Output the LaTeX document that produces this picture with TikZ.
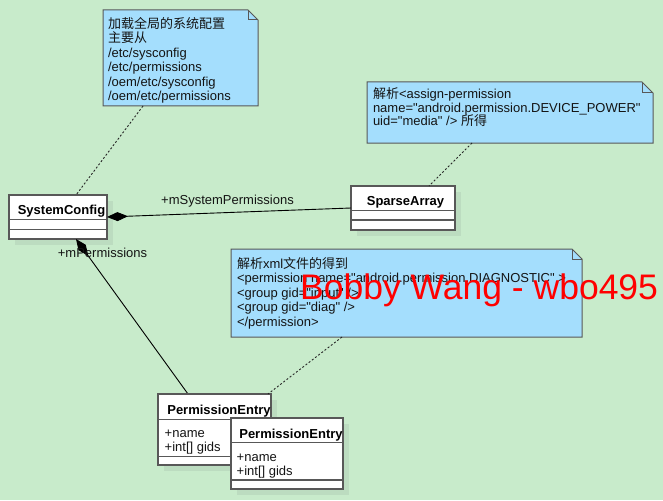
\documentclass[tikz,border=0pt]{standalone}
\usepackage{fontspec}
\setmainfont{Liberation Sans}[Ligatures=TeXOff]
\newfontfamily\cjk{Noto Sans CJK SC}
\usetikzlibrary{arrows.meta,shadows}
\definecolor{bg}{RGB}{200,235,203}
\definecolor{notefill}{RGB}{164,222,253}
\definecolor{edge}{RGB}{88,88,88}
\definecolor{shade}{RGB}{188,220,192}
\definecolor{textc}{RGB}{20,20,20}
\newcommand\nstrut{\rule{0pt}{12pt}}
\newcommand\notefont{\fontsize{13}{14.5}\selectfont\lineskiplimit=-100pt\relax}
\newcommand\notefontB{\fontsize{13}{13.3}\selectfont\lineskiplimit=-100pt\relax}
\newcommand\notefontC{\fontsize{13}{14.6}\selectfont\lineskiplimit=-100pt\relax}
\begin{document}
\begin{tikzpicture}[x=1pt,y=-1pt,
  note/.style={fill=notefill, draw=edge, line width=1pt, line join=miter},
  notearea/.style={anchor=north west, inner sep=0pt, outer sep=0pt, draw=none},
  notetext/.style={anchor=north west, inner sep=0pt, outer sep=0pt, align=left, text=textc, font=\notefont},
  classbox/.style={anchor=north west, draw=edge, line width=1.1pt, fill=white, inner sep=0pt, outer sep=0pt,
    drop shadow={shadow xshift=6pt, shadow yshift=-6pt, fill=shade, opacity=1}},
  sepline/.style={draw=edge, line width=1.1pt},
  classname/.style={anchor=base, inner sep=0pt, text=black, font=\fontsize{13}{15}\selectfont\bfseries},
  attrs/.style={anchor=north west, inner sep=0pt, align=left, text=textc, font=\notefont},
  assoc/.style={draw=black, line width=0.9pt},
  comp/.style={assoc, {Diamond[length=21pt,width=9pt]}-},
  notelink/.style={draw=black!85, line width=0.9pt, dash pattern=on 2pt off 2pt},
  rolelabel/.style={anchor=base, inner sep=0pt, text=textc, font=\fontsize{13}{15}\selectfont},
  watermark/.style={anchor=base west, inner sep=0pt, text=red, font=\fontsize{35.5}{40}\selectfont}
]
\useasboundingbox (0,0) rectangle (663,500);
\fill[bg] (0,0) rectangle (663,500);

% ---------- note 1
\node[notearea, minimum width=155pt, minimum height=96pt] (n1) at (103,10) {};
\path[note] (n1.north west) -- ([xshift=-10pt]n1.north east) -- ([yshift=-10pt]n1.north east)
  -- (n1.south east) -- (n1.south west) -- cycle;
\draw[edge, line width=1pt] ([xshift=-10pt]n1.north east) |- ([yshift=-10pt]n1.north east);
\node[notetext] (n1t) at (108,16.5) {\nstrut{\cjk 加载全局的系统配置}\\{\cjk 主要从}\\/etc/sysconfig\\/etc/permissions\\/oem/etc/sysconfig\\/oem/etc/permissions};

% ---------- note 2
\node[notearea, minimum width=286pt, minimum height=61pt] (n2) at (367,82) {};
\path[note] (n2.north west) -- ([xshift=-11pt]n2.north east) -- ([yshift=-11pt]n2.north east)
  -- (n2.south east) -- (n2.south west) -- cycle;
\draw[edge, line width=1pt] ([xshift=-11pt]n2.north east) |- ([yshift=-11pt]n2.north east);
\node[notetext, font=\notefontB] (n2t) at (373,87)
  {\nstrut{\cjk 解析}<assign-permission\\name="android.permission.DEVICE\_POWER"\\uid="media" /> {\cjk 所得}};

% ---------- note 3
\node[notearea, minimum width=351pt, minimum height=88pt] (n3) at (231,249) {};
\path[note] (n3.north west) -- ([xshift=-10pt]n3.north east) -- ([yshift=-10pt]n3.north east)
  -- (n3.south east) -- (n3.south west) -- cycle;
\draw[edge, line width=1pt] ([xshift=-10pt]n3.north east) |- ([yshift=-10pt]n3.north east);
\node[notetext, font=\notefontC] (n3t) at (237,256)
  {\nstrut{\cjk 解析}xml{\cjk 文件的得到}\\<permission name="android.permission.DIAGNOSTIC" >\\<group gid="input" />\\<group gid="diag" />\\</permission>};

% ---------- SystemConfig
\node[classbox, minimum width=98pt, minimum height=44pt] (sc) at (9,195) {};
\draw[sepline] ([yshift=-24.3pt]sc.north west) -- ([yshift=-24.3pt]sc.north east);
\draw[sepline] ([yshift=-34.3pt]sc.north west) -- ([yshift=-34.3pt]sc.north east);
\node[classname] (scn) at (61.5,214) {SystemConfig};

% ---------- SparseArray
\node[classbox, minimum width=104pt, minimum height=44pt] (sa) at (351,186) {};
\draw[sepline] ([yshift=-24.7pt]sa.north west) -- ([yshift=-24.7pt]sa.north east);
\draw[sepline] ([yshift=-34pt]sa.north west) -- ([yshift=-34pt]sa.north east);
\node[classname] (san) at (405.5,205.5) {SparseArray};

% ---------- note links
\draw[notelink] ([xshift=-37.5pt]n1.south) -- ([xshift=18pt]sc.north);
\draw[notelink] ([xshift=-38pt]n2.south) -- ([xshift=26pt]sa.north);

% ---------- associations
\draw[comp] (sc.east) -- (sa.west);
\node[rolelabel] (l1) at (227.5,204.5) {+mSystemPermissions};

% ---------- PermissionEntry 1
\coordinate (pe1top) at (188,394);
\draw[comp] ([xshift=18pt]sc.south) -- (pe1top);
\node[classbox, minimum width=113pt, minimum height=71pt] (pe1) at (158,394) {};
\draw[sepline] ([yshift=-25.3pt]pe1.north west) -- ([yshift=-25.3pt]pe1.north east);
\draw[sepline] ([yshift=-62.7pt]pe1.north west) -- ([yshift=-62.7pt]pe1.north east);
\node[classname] (pe1n) at (219,414.5) {PermissionEntry};
\node[attrs] (pe1a) at (164.5,425) {\nstrut+name\\+int[] gids};
\node[rolelabel] (l2) at (102.5,257.5) {+mPermissions};
\draw[notelink] ([xshift=-64.5pt]n3.south) -- ([xshift=53.5pt]pe1.north);

% ---------- PermissionEntry 2
\node[classbox, minimum width=112pt, minimum height=71pt] (pe2) at (231,418) {};
\draw[sepline] ([yshift=-24.7pt]pe2.north west) -- ([yshift=-24.7pt]pe2.north east);
\draw[sepline] ([yshift=-62pt]pe2.north west) -- ([yshift=-62pt]pe2.north east);
\node[classname] (pe2n) at (291,438.5) {PermissionEntry};
\node[attrs] (pe2a) at (236.5,449) {\nstrut+name\\+int[] gids};

% ---------- watermark
\node[watermark] (wm) at (300,299.5) {Bobby Wang - wbo495};
\end{tikzpicture}
\end{document}
